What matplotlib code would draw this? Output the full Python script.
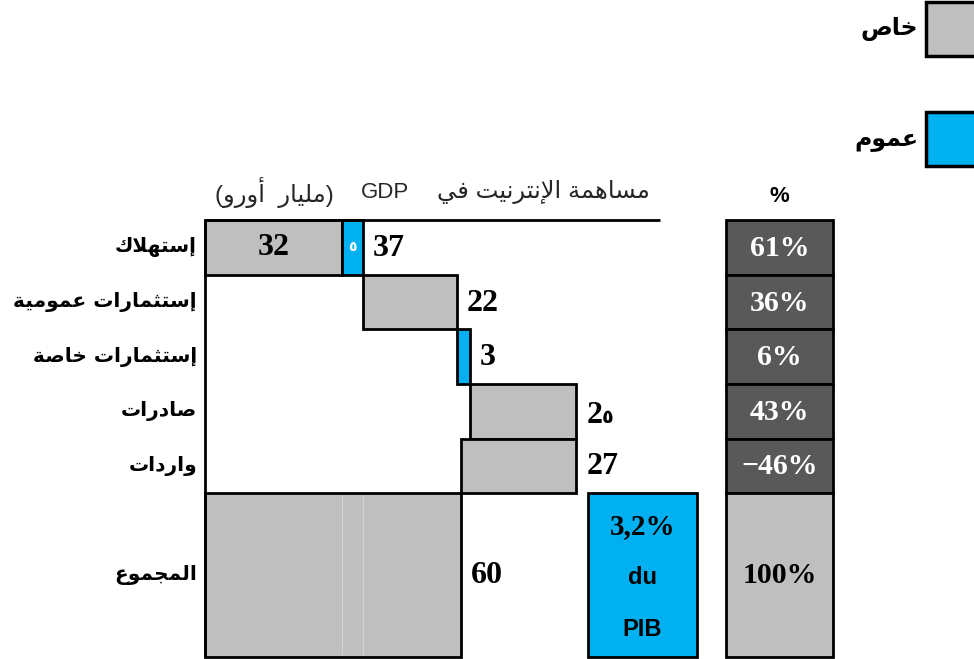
import numpy as np
import matplotlib
matplotlib.use("Agg")
import matplotlib.pyplot as plt
from matplotlib.patches import Rectangle

# --- data -------------------------------------------------------------
categories = ['إستهلاك', 'إستثمارات عمومية', 'إستثمارات خاصة', 'صادرات', 'واردات']
total_label = 'المجموع'
# waterfall steps per row, in milliard euro, with the sector of each piece
row_steps = [[32, 5], [22], [3], [25], [-27]]
row_sectors = [['خاص', 'عموم'], ['خاص'], ['عموم'], ['خاص'], ['خاص']]
inside_labels = [['32', '٥'], [''], [''], [''], ['']]
end_labels = ['37', '22', '3', '2٥', '27']
total_value = 60
total_text = '60'
shares = [61, 36, 6, 43, -46]
total_share = 100
gdp_lines = ['3,2%', 'du', 'PIB']
header = 'مساهمة الإنترنيت في'
unit_text = 'مليار  أورو'
legend_items = ['خاص', 'عموم']

# --- minimal arabic shaping (matplotlib draws glyphs left to right, unjoined)
FORMS = {
    'ء': (0xFE80, 1), 'آ': (0xFE81, 2), 'أ': (0xFE83, 2), 'ؤ': (0xFE85, 2),
    'إ': (0xFE87, 2), 'ئ': (0xFE89, 4), 'ا': (0xFE8D, 2), 'ب': (0xFE8F, 4),
    'ة': (0xFE93, 2), 'ت': (0xFE95, 4), 'ث': (0xFE99, 4), 'ج': (0xFE9D, 4),
    'ح': (0xFEA1, 4), 'خ': (0xFEA5, 4), 'د': (0xFEA9, 2), 'ذ': (0xFEAB, 2),
    'ر': (0xFEAD, 2), 'ز': (0xFEAF, 2), 'س': (0xFEB1, 4), 'ش': (0xFEB5, 4),
    'ص': (0xFEB9, 4), 'ض': (0xFEBD, 4), 'ط': (0xFEC1, 4), 'ظ': (0xFEC5, 4),
    'ع': (0xFEC9, 4), 'غ': (0xFECD, 4), 'ف': (0xFED1, 4), 'ق': (0xFED5, 4),
    'ك': (0xFED9, 4), 'ل': (0xFEDD, 4), 'م': (0xFEE1, 4), 'ن': (0xFEE5, 4),
    'ه': (0xFEE9, 4), 'و': (0xFEED, 2), 'ى': (0xFEEF, 2), 'ي': (0xFEF1, 4),
}
LAM_ALEF = {'آ': 0xFEF5, 'أ': 0xFEF7, 'إ': 0xFEF9, 'ا': 0xFEFB}


def ar(text):
    toks = []
    i = 0
    while i < len(text):
        c = text[i]
        if c == 'ل' and i + 1 < len(text) and text[i + 1] in LAM_ALEF:
            toks.append(('LA', text[i + 1]))
            i += 2
        else:
            toks.append((c, None))
            i += 1

    def joins_next(t):
        return t[0] in FORMS and FORMS[t[0]][1] == 4

    def joins_prev(t):
        return t[0] == 'LA' or (t[0] in FORMS and t[0] != 'ء')

    out = []
    for k, t in enumerate(toks):
        p = k > 0 and joins_next(toks[k - 1]) and joins_prev(t)
        n = k + 1 < len(toks) and joins_next(t) and joins_prev(toks[k + 1])
        if t[0] == 'LA':
            out.append(chr(LAM_ALEF[t[1]] + int(p)))
        elif t[0] in FORMS:
            base, nf = FORMS[t[0]]
            if nf == 1:
                f = 0
            elif nf == 2:
                f = int(p)
            else:
                f = {(False, False): 0, (True, False): 1, (False, True): 2, (True, True): 3}[(p, n)]
            out.append(chr(base + f))
        else:
            out.append(t[0])
    return ''.join(reversed(out))


# --- styling ------------------------------------------------------------
GREY = '#BFBFBF'
BLUE = '#00B0F0'
DARK = '#595959'
colors = {'خاص': GREY, 'عموم': BLUE}
AR_BOLD = dict(family=['DejaVu Sans'], fontweight='bold')
NUM = dict(family=['Liberation Serif', 'DejaVu Sans'], fontweight='bold')
NUM_SIZE = 23

W, H = 974, 659
fig = plt.figure(figsize=(W / 100, H / 100), dpi=100)
ax = fig.add_axes([0, 0, 1, 1])
renderer = fig.canvas.get_renderer()

# axis scale: 60 bn = 256 px, starting at px 205 ; rows 54.6 px from px 220
sx, x0 = 256 / 60, 205
sy, y0 = 437 / 8, 220
ax.set_xlim(-x0 / sx, (W - x0) / sx)
ax.set_ylim((H - y0) / sy, -y0 / sy)
ax.axis('off')


def px(x):
    return (x - x0) / sx


def py(y):
    return (y - y0) / sy


def mixed_label(x, y, s, size, color='black', ha='left'):
    # latin digits in serif bold, arabic-indic digits smaller in DejaVu
    runs = []
    for ch in s:
        small = '\u0660' <= ch <= '\u0669'
        if runs and runs[-1][1] == small:
            runs[-1][0] += ch
        else:
            runs.append([ch, small])

    def style(small):
        if small:
            return dict(family=['DejaVu Sans'], fontweight='bold', fontsize=size * 0.6)
        return dict(fontsize=size, **NUM)

    if len(runs) == 1:
        ax.text(x, y, s, ha=ha, va='center', color=color, **style(runs[0][1]))
        return
    yb = y + 0.34 * size * 100 / 72 / sy
    texts = [ax.text(x, yb, t, ha='left', va='baseline', color=color, **style(sm))
             for t, sm in runs]
    widths = [t.get_window_extent(renderer).width for t in texts]
    start = ax.transData.transform((x, y))[0]
    if ha == 'center':
        start -= sum(widths) / 2
    for t, w in zip(texts, widths):
        t.set_x(ax.transData.inverted().transform((start, 0))[0])
        start += w


lw = 2.0
# header
hfont = ['Liberation Sans', 'DejaVu Sans']
ax.text(px(650), py(192), ar(header), ha='right', va='center', fontsize=17.5,
        family=hfont, color='#262626')
ax.text(px(385), py(192), 'GDP', ha='center', va='center', fontsize=16,
        family=hfont, color='#262626')
ax.text(px(215), py(192), '(' + ar(unit_text) + ')', ha='left', va='center',
        fontsize=17.5, family=hfont, color='#262626')
ax.plot([0, px(660)], [0, 0], color='black', lw=lw, solid_capstyle='butt')
ax.plot([0, 0], [0, 8], color='black', lw=lw, solid_capstyle='butt')

# waterfall rows
level = 0
for i, (steps, secs) in enumerate(zip(row_steps, row_sectors)):
    for v, s, lab in zip(steps, secs, inside_labels[i]):
        left = level if v > 0 else level + v
        ax.barh(i + 0.5, abs(v), left=left, height=1, color=colors[s],
                edgecolor='black', linewidth=lw)
        if lab:
            c = 'white' if s == 'عموم' else 'black'
            mixed_label(left + abs(v) / 2, i + 0.5, lab,
                        NUM_SIZE if s == 'خاص' else 17, color=c, ha='center')
        level += v
    right = max(level, level - v)
    mixed_label(right + px(215), i + 0.52, end_labels[i], NUM_SIZE)
    ax.text(px(197), i + 0.5, ar(categories[i]), ha='right', va='center',
            fontsize=14.5, **AR_BOLD)

# total row
ax.barh(5 + 1.5, total_value, left=0, height=3, color=GREY, edgecolor='black', linewidth=lw)
for b in np.cumsum(row_steps[0]):
    ax.plot([b, b], [5.06, 7.94], color='#D4D4D4', lw=0.8)
ax.text(total_value + px(215), 6.5, total_text, ha='left', va='center', fontsize=NUM_SIZE, **NUM)
ax.text(px(197), 6.5, ar(total_label), ha='right', va='center', fontsize=14.5, **AR_BOLD)

gx0, gx1 = px(588), px(697)
ax.add_patch(Rectangle((gx0, 5), gx1 - gx0, 3, facecolor=BLUE, edgecolor='black', lw=lw))
ax.text((gx0 + gx1) / 2, py(527), gdp_lines[0], ha='center', va='center', fontsize=21, **NUM)
for t, y in zip(gdp_lines[1:], [578, 630]):
    ax.text((gx0 + gx1) / 2, py(y), t, ha='center', va='center', fontsize=17,
            family='Liberation Sans', fontweight='bold')

# share column
cx0, cx1 = px(726), px(833)
ax.text((cx0 + cx1) / 2, py(197), '%', ha='center', va='center', fontsize=16,
        family='Liberation Sans', fontweight='bold')
for i, s in enumerate(shares):
    ax.add_patch(Rectangle((cx0, i), cx1 - cx0, 1, facecolor=DARK, edgecolor='black', lw=lw))
    ax.text((cx0 + cx1) / 2, i + 0.52, f'{s}%'.replace('-', '\u2212'), ha='center',
            va='center', fontsize=21.5, color='white', **NUM)
ax.add_patch(Rectangle((cx0, 5), cx1 - cx0, 3, facecolor=GREY, edgecolor='black', lw=lw))
ax.text((cx0 + cx1) / 2, 6.5, f'{total_share}%', ha='center', va='center', fontsize=21.5, **NUM)

# legend
for name, (ytop, ybot) in zip(legend_items, [(2, 56), (112, 166)]):
    ax.add_patch(Rectangle((px(926), py(ytop)), px(990) - px(926), py(ybot) - py(ytop),
                           facecolor=colors[name], edgecolor='black', lw=2.5, clip_on=False))
    ax.text(px(918), py((ytop + ybot) / 2), ar(name), ha='right', va='center',
            fontsize=17, **AR_BOLD)

fig.savefig('out.png', dpi=100)
